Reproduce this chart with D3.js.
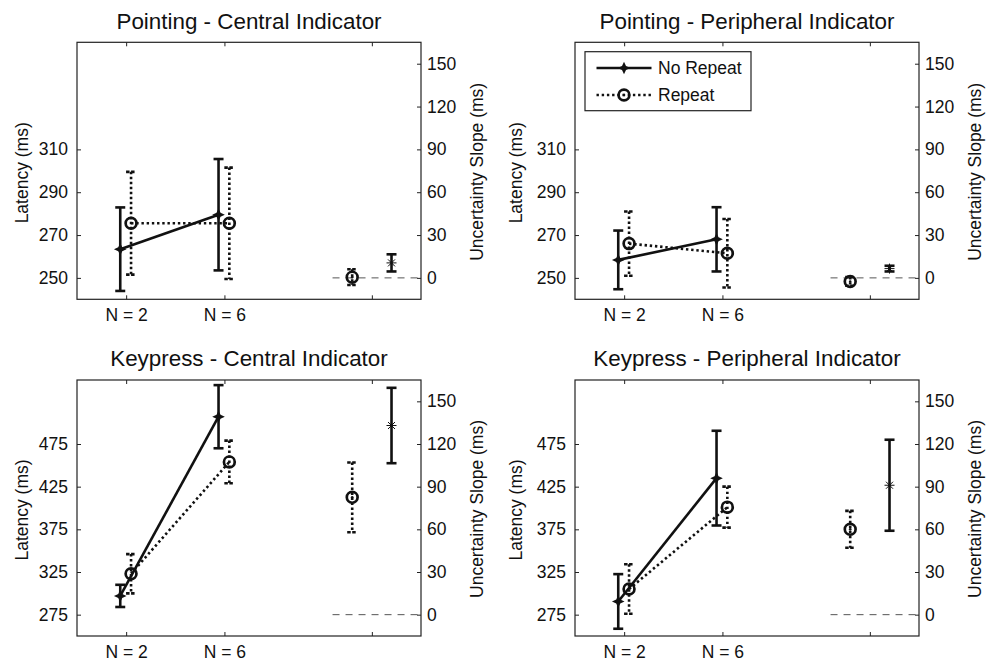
<!DOCTYPE html>
<html><head><meta charset="utf-8">
<script src="https://cdn.jsdelivr.net/npm/d3@7"></script>
<style>
body{margin:0;background:#fff}
text{font-family:"Liberation Sans",Arial,Helvetica,sans-serif;fill:#111}
</style></head>
<body><svg id="c" width="999" height="664"></svg>
<script>
// ---------- data ----------
const titles = ["Pointing - Central Indicator","Pointing - Peripheral Indicator","Keypress - Central Indicator","Keypress - Peripheral Indicator"];
const seriesNames = ["No Repeat","Repeat"];
const xTickValues = [1, 2, 3.5];
const xTickLabels = ["N = 2", "N = 6", ""];
const conditionX = [1, 2];
const leftDomains = [[240,360],[240,360],[250,550],[250,550]];
const leftTicks = [[250,270,290,310],[250,270,290,310],[275,325,375,425,475],[275,325,375,425,475]];
const rightDomain = [-15,165];
const rightTicks = [0,30,60,90,120,150];
// latency means and errors (per panel: [N=2, N=6])
const noRepeatMean = [[263.4,279.5],[258.4,268],[297,507],[290.5,435]];
const noRepeatErr  = [[19.5,26],[13.7,15],[13,37],[32,55.5]];
const repeatMean   = [[275.5,275.5],[266,261.5],[323,454],[305,401]];
const repeatErr    = [[24,26],[15,16],[23,25],[29,24]];
// uncertainty slopes (right axis)
const slopeNoRepeat    = [10.5, 6.5, 133, 91];
const slopeNoRepeatErr = [6, 2, 26.5, 32];
const slopeRepeat      = [0.5, -2.5, 82.5, 60];
const slopeRepeatErr   = [5.5, 3, 24.5, 13];

// ---------- layout ----------
const panels = [
  {x0:77, x1:421, y0:42.3, y1:299.3, ll:-55},
  {x0:575,x1:919, y0:42.3, y1:299.3, ll:-59},
  {x0:77, x1:421, y0:380,  y1:636,   ll:-55},
  {x0:575,x1:919, y0:380,  y1:636,   ll:-59}
];
const svg = d3.select("#c");
const FS = 17.5;
const offNR = -0.06, offR = 0.05, slopeXR = 3.3, slopeXNR = 3.7;

function starPath(r, w){ // filled 4-point star
  return `M0,${-r}L${w},${-w}L${r},0L${w},${w}L0,${r}L${-w},${w}L${-r},0L${-w},${-w}Z`;
}
function drawNRMarker(g, x, y){
  g.append("path").attr("d", starPath(6.3,2)).attr("transform",`translate(${x},${y})`).attr("fill","#111");
}
function drawRMarker(g, x, y, dot){
  g.append("circle").attr("cx",x).attr("cy",y).attr("r",5.4).attr("fill","none").attr("stroke","#111").attr("stroke-width",2.7);
  if(dot) g.append("circle").attr("cx",x).attr("cy",y).attr("r",1.3).attr("fill","#111");
}
function drawAsterisk(g, x, y){
  const r=5;
  [[r,0],[0,r],[r*0.7,r*0.7],[r*0.7,-r*0.7]].forEach(([dx,dy])=>{
    g.append("line").attr("x1",x-dx).attr("y1",y-dy).attr("x2",x+dx).attr("y2",y+dy).attr("stroke","#111").attr("stroke-width",1);
  });
}
function errBar(g, x, yTop, yBot, dotted){
  g.append("line").attr("x1",x).attr("x2",x).attr("y1",yTop).attr("y2",yBot)
    .attr("stroke","#111").attr("stroke-width",2.6).attr("stroke-dasharray", dotted? "2.4,2.6":null);
  [yTop,yBot].forEach(yy=>g.append("line").attr("x1",x-5).attr("x2",x+5).attr("y1",yy).attr("y2",yy)
    .attr("stroke","#111").attr("stroke-width",2.6).attr("stroke-dasharray", dotted? "3.5,1.5":null));
}

panels.forEach((p, i) => {
  const g = svg.append("g");
  const x = d3.scaleLinear().domain([0.5, 4]).range([p.x0, p.x1]);
  const yL = d3.scaleLinear().domain(leftDomains[i]).range([p.y1, p.y0]);
  const yR = d3.scaleLinear().domain(rightDomain).range([p.y1, p.y0]);

  // axes
  const axB = g.append("g").attr("transform",`translate(0,${p.y1})`)
    .call(d3.axisBottom(x).tickValues(xTickValues).tickFormat((d,k)=>xTickLabels[k]).tickSize(-4).tickPadding(9.5));
  const axT = g.append("g").attr("transform",`translate(0,${p.y0})`)
    .call(d3.axisTop(x).tickValues(xTickValues).tickFormat("").tickSize(-4));
  const axL = g.append("g").attr("transform",`translate(${p.x0},0)`)
    .call(d3.axisLeft(yL).tickValues(leftTicks[i]).tickSize(-4).tickPadding(9));
  const axR = g.append("g").attr("transform",`translate(${p.x1},0)`)
    .call(d3.axisRight(yR).tickValues(rightTicks).tickSize(-4).tickPadding(6));
  [axB,axT,axL,axR].forEach(a=>{
    a.select(".domain").remove();
    a.selectAll(".tick line").attr("stroke","#222").attr("stroke-width",1);
    a.selectAll(".tick text").style("font-size",FS+"px").attr("fill","#111").style("font-family",'"Liberation Sans",Arial,sans-serif');
  });
  g.append("rect").attr("x",p.x0).attr("y",p.y0).attr("width",p.x1-p.x0).attr("height",p.y1-p.y0)
    .attr("fill","none").attr("stroke","#222").attr("stroke-width",1.2);

  // titles and labels
  g.append("text").attr("x",(p.x0+p.x1)/2).attr("y",p.y0-21.5).attr("dy","0.35em").attr("text-anchor","middle")
    .style("font-size","22.4px").text(titles[i]);
  const cy = (p.y0+p.y1)/2;
  g.append("text").attr("transform",`translate(${p.x0+p.ll},${cy+2}) rotate(-90)`).attr("dy","0.35em")
    .attr("text-anchor","middle").style("font-size",FS+"px").text("Latency (ms)");
  g.append("text").attr("transform",`translate(${p.x1+56},${cy+1}) rotate(-90)`).attr("dy","0.35em")
    .attr("text-anchor","middle").style("font-size",FS+"px").text("Uncertainty Slope (ms)");

  // zero reference for slopes
  g.append("line").attr("x1",x(3.1)).attr("x2",x(4)).attr("y1",yR(0)).attr("y2",yR(0))
    .attr("stroke","#555").attr("stroke-width",1).attr("stroke-dasharray","7,6");

  // No Repeat series
  const nrPts = conditionX.map((c,k)=>[x(c+offNR), yL(noRepeatMean[i][k])]);
  conditionX.forEach((c,k)=>errBar(g, x(c+offNR), yL(noRepeatMean[i][k]+noRepeatErr[i][k]), yL(noRepeatMean[i][k]-noRepeatErr[i][k]), false));
  g.append("path").attr("d", d3.line()(nrPts)).attr("fill","none").attr("stroke","#111").attr("stroke-width",2.6);
  nrPts.forEach(([px,py])=>drawNRMarker(g,px,py));

  // Repeat series
  const rPts = conditionX.map((c,k)=>[x(c+offR), yL(repeatMean[i][k])]);
  conditionX.forEach((c,k)=>errBar(g, x(c+offR), yL(repeatMean[i][k]+repeatErr[i][k]), yL(repeatMean[i][k]-repeatErr[i][k]), true));
  g.append("path").attr("d", d3.line()(rPts)).attr("fill","none").attr("stroke","#111").attr("stroke-width",2.6).attr("stroke-dasharray","2.4,2.8");
  rPts.forEach(([px,py])=>drawRMarker(g,px,py,false));

  // slopes
  errBar(g, x(slopeXR), yR(slopeRepeat[i]+slopeRepeatErr[i]), yR(slopeRepeat[i]-slopeRepeatErr[i]), true);
  drawRMarker(g, x(slopeXR), yR(slopeRepeat[i]), true);
  errBar(g, x(slopeXNR), yR(slopeNoRepeat[i]+slopeNoRepeatErr[i]), yR(slopeNoRepeat[i]-slopeNoRepeatErr[i]), false);
  drawAsterisk(g, x(slopeXNR), yR(slopeNoRepeat[i]));

  // legend (panel 2 only)
  if(i===1){
    const lg = g.append("g");
    lg.append("rect").attr("x",585).attr("y",51.7).attr("width",166).attr("height",59)
      .attr("fill","#fff").attr("stroke","#222").attr("stroke-width",1.2);
    const rows=[68,95];
    lg.append("line").attr("x1",596.5).attr("x2",651.5).attr("y1",rows[0]).attr("y2",rows[0]).attr("stroke","#111").attr("stroke-width",2.6);
    drawNRMarker(lg,624,rows[0]);
    lg.append("line").attr("x1",596.5).attr("x2",651.5).attr("y1",rows[1]).attr("y2",rows[1]).attr("stroke","#111").attr("stroke-width",2.6).attr("stroke-dasharray","2.4,2.8");
    drawRMarker(lg,624,rows[1],true);
    seriesNames.forEach((s,k)=>lg.append("text").attr("x",658).attr("y",rows[k]).attr("dy","0.35em").style("font-size",FS+"px").text(s));
  }
});
</script></body></html>
